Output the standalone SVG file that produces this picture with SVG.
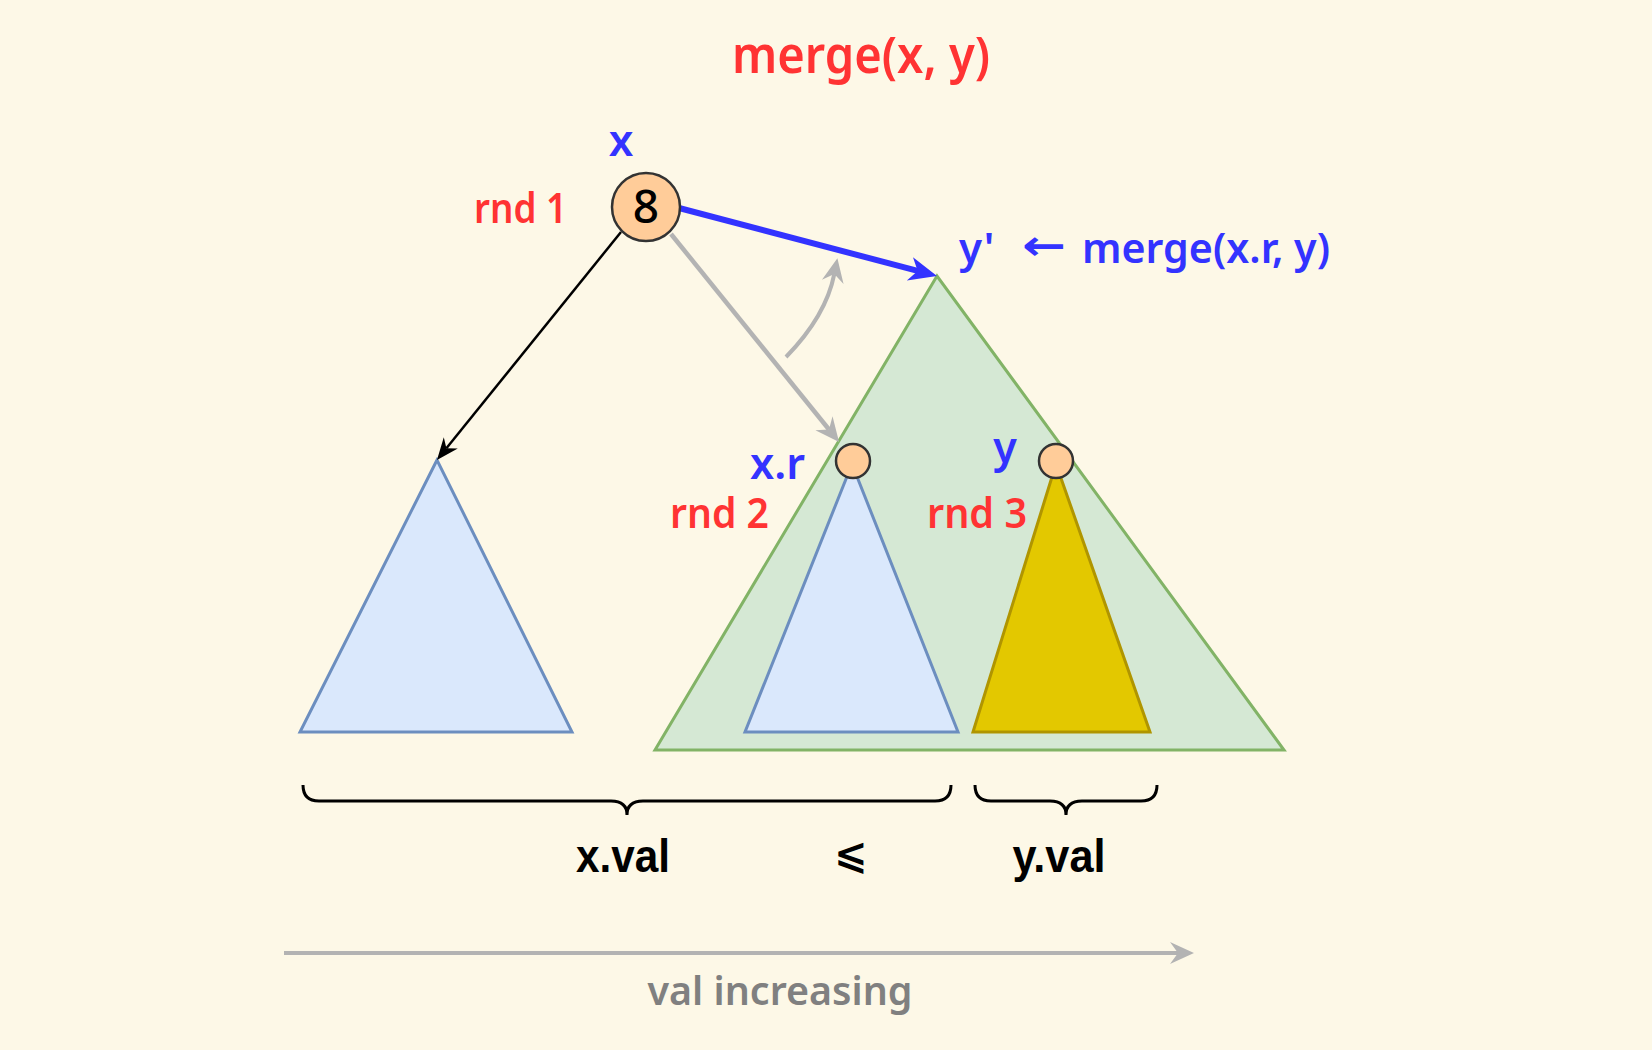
<svg xmlns="http://www.w3.org/2000/svg" width="1652" height="1050" viewBox="0 0 1652 1050">
<defs>
<style>
.lbl{font-family:"Noto Sans","Open Sans",sans-serif;font-weight:600;}
.red{fill:#FF3333;}
.blue{fill:#3333FF;}
.blk{font-family:"Liberation Sans Narrow","Liberation Sans",sans-serif;font-weight:bold;fill:#000;font-size:46px;}
.tri-blue{fill:#DAE8FC;stroke:#6C8EBF;stroke-width:3;}
.node{fill:#FFCC99;stroke:#333333;stroke-width:2.5;}
.brace{fill:none;stroke:#000;stroke-width:3;}
</style>
<marker id="ab" markerUnits="userSpaceOnUse" viewBox="-30 -13 32 26" refX="-18" refY="0" markerWidth="32" markerHeight="26" orient="auto"><path d="M0,0 L-28,-12 L-20,0 L-28,12 Z" fill="#3333FF"/></marker>
<marker id="ak" markerUnits="userSpaceOnUse" viewBox="-24 -11 26 22" refX="-15" refY="0" markerWidth="26" markerHeight="22" orient="auto"><path d="M0,0 L-22,-9 L-15,0 L-22,9 Z" fill="#000"/></marker>
<marker id="ag" markerUnits="userSpaceOnUse" viewBox="-26 -13 28 26" refX="-16" refY="0" markerWidth="28" markerHeight="26" orient="auto"><path d="M0,0 L-24,-11 L-16,0 L-24,11 Z" fill="#B3B3B3"/></marker>
</defs>
<rect width="1652" height="1050" fill="#FDF8E7"/>
<text class="lbl red" x="861" y="73" font-size="50" text-anchor="middle" textLength="258" lengthAdjust="spacingAndGlyphs">merge(x, y)</text>
<g id="tree-left"><polygon class="tri-blue" points="437,460 300,732 572,732"/></g>
<g id="tree-yprime"><polygon points="937,276 655,750 1284,750" fill="#D5E8D4" stroke="#82B366" stroke-width="3"/></g>
<g id="tree-xr"><polygon class="tri-blue" points="852,464 745,732 958,732"/></g>
<g id="tree-y"><polygon points="1056,464 973,732 1150,732" fill="#E3C800" stroke="#B09500" stroke-width="3"/></g>
<g id="connectors">
<line x1="679" y1="208" x2="919.6" y2="271.4" stroke="#3333FF" stroke-width="6" marker-end="url(#ab)"/>
<line x1="621" y1="232" x2="446.4" y2="448.3" stroke="#000" stroke-width="2.5" marker-end="url(#ak)"/>
<line x1="671" y1="234" x2="829" y2="429.5" stroke="#B3B3B3" stroke-width="4.5" marker-end="url(#ag)"/>
<path d="M786,357 Q826,316 834.3,274" fill="none" stroke="#B3B3B3" stroke-width="4" marker-end="url(#ag)"/>
<line x1="284" y1="953" x2="1178" y2="953" stroke="#B3B3B3" stroke-width="4" marker-end="url(#ag)"/>
</g>
<g id="node-x">
<circle class="node" cx="646" cy="207" r="34"/>
<text x="646" y="223" font-family="'Noto Sans',sans-serif" font-weight="500" font-size="46" text-anchor="middle" fill="#000">8</text>
</g>
<g id="node-xr"><circle class="node" cx="853" cy="461" r="17"/></g>
<g id="node-y"><circle class="node" cx="1056" cy="461" r="17"/></g>
<text class="lbl blue" x="621" y="156" font-size="44" text-anchor="middle">x</text>
<text class="lbl red" x="474" y="223" font-size="42" textLength="93" lengthAdjust="spacingAndGlyphs">rnd 1</text>
<text class="lbl blue" font-size="42"><tspan x="959" y="263">y'</tspan><tspan x="1022" y="260" font-family="'DejaVu Sans',sans-serif" font-size="42" textLength="44" lengthAdjust="spacingAndGlyphs">←</tspan><tspan x="1082" y="263" textLength="248" lengthAdjust="spacingAndGlyphs">merge(x.r, y)</tspan></text>
<text class="lbl blue" x="750" y="479" font-size="43" textLength="55" lengthAdjust="spacingAndGlyphs">x.r</text>
<text class="lbl blue" x="1005" y="463" font-size="43" text-anchor="middle">y</text>
<text class="lbl red" x="670" y="528" font-size="42" textLength="99" lengthAdjust="spacingAndGlyphs">rnd 2</text>
<text class="lbl red" x="927" y="528" font-size="42" textLength="100" lengthAdjust="spacingAndGlyphs">rnd 3</text>
<path class="brace" d="M303,785 Q303,801 319,801 L611,801 Q627,801 627,815 Q627,801 643,801 L935,801 Q951,801 951,785"/>
<path class="brace" d="M975,785 Q975,801 991,801 L1050,801 Q1066,801 1066,815 Q1066,801 1082,801 L1141,801 Q1157,801 1157,785"/>
<text class="blk" x="623" y="872" text-anchor="middle" textLength="94" lengthAdjust="spacingAndGlyphs">x.val</text>
<text x="851" y="868" font-family="'DejaVu Sans',sans-serif" font-weight="bold" font-size="40" text-anchor="middle" fill="#000">⩽</text>
<text class="blk" x="1059" y="872" text-anchor="middle" textLength="93" lengthAdjust="spacingAndGlyphs">y.val</text>
<text class="lbl" x="780" y="1005" font-size="40" text-anchor="middle" fill="#808080" textLength="265" lengthAdjust="spacingAndGlyphs">val increasing</text>
</svg>
